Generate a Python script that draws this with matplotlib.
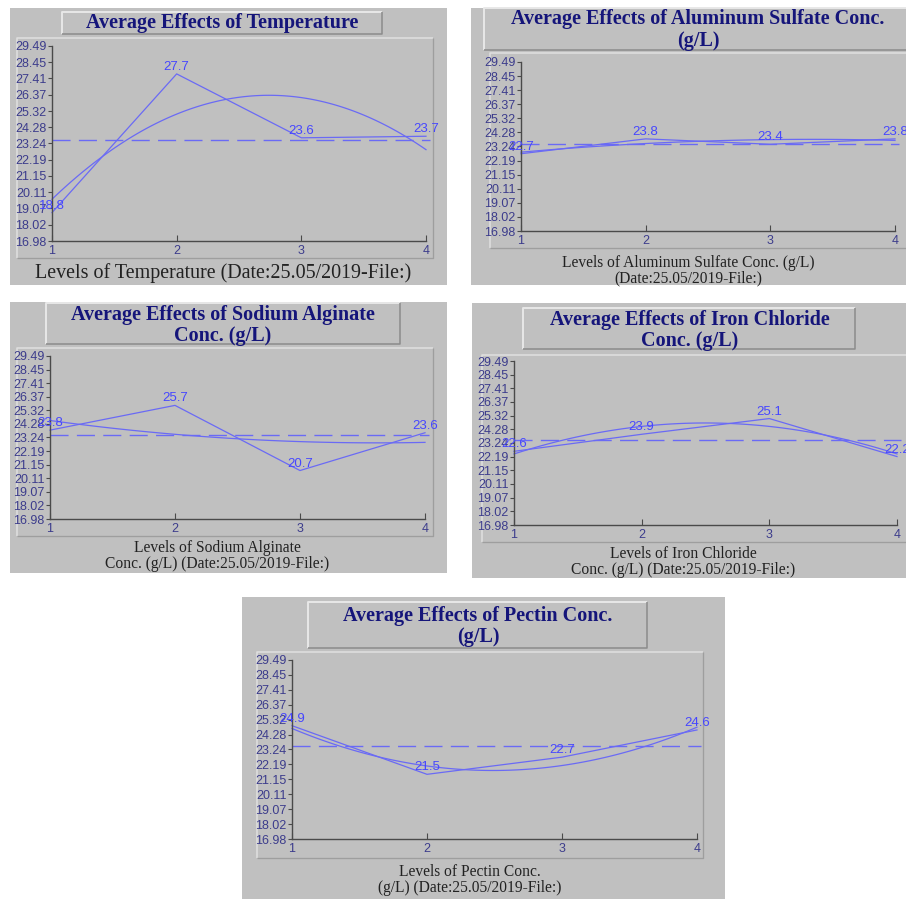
"""Five 'average effects' panels (Taguchi-style level means) on grey report frames."""

import matplotlib

matplotlib.use("Agg")
import matplotlib.pyplot as plt
import numpy as np
from matplotlib.patches import Rectangle

W, H = 906, 899  # output size in px (dpi 100)

# ---- data -------------------------------------------------------------------
LEVELS = [1, 2, 3, 4]
Y_TICKS = [16.98, 18.02, 19.07, 20.11, 21.15, 22.19, 23.24,
           24.28, 25.32, 26.37, 27.41, 28.45, 29.49]
GRAND_MEAN = 23.45

TEMPERATURE = [18.8, 27.7, 23.6, 23.7]
ALUMINUM_SULFATE = [22.7, 23.8, 23.4, 23.8]
SODIUM_ALGINATE = [23.8, 25.7, 20.7, 23.6]
IRON_CHLORIDE = [22.6, 23.9, 25.1, 22.2]
PECTIN = [24.9, 21.5, 22.7, 24.6]

TITLES = [
    ["Average Effects of Temperature"],
    ["Average Effects of Aluminum Sulfate Conc.", "(g/L)"],
    ["Average Effects of Sodium Alginate", "Conc. (g/L)"],
    ["Average Effects of Iron Chloride", "Conc. (g/L)"],
    ["Average Effects of Pectin Conc.", "(g/L)"],
]
XLABELS = [
    ["Levels of Temperature (Date:25.05/2019-File:)"],
    ["Levels of Aluminum Sulfate Conc. (g/L)", "(Date:25.05/2019-File:)"],
    ["Levels of Sodium Alginate", "Conc. (g/L) (Date:25.05/2019-File:)"],
    ["Levels of Iron Chloride", "Conc. (g/L) (Date:25.05/2019-File:)"],
    ["Levels of Pectin Conc.", "(g/L) (Date:25.05/2019-File:)"],
]

# ---- layout (pixel boxes: x0, y0, x1, y1) -----------------------------------
LAYOUT = [
    dict(grey=(10, 8, 447, 285), tbox=(62, 12, 382, 34), frame=(17, 38, 433, 258),
         axes=(52, 46, 426, 241), tcx=222, ty=[23], xcx=223, xy=[273], xfs=14.4),
    dict(grey=(471, 8, 906, 285), tbox=(484, 8, 910, 50), frame=(490, 53, 910, 248),
         axes=(521, 62, 895, 231), tcx=698, ty=[19, 41], xcx=688, xy=[263, 278], xfs=11.2),
    dict(grey=(10, 302, 447, 573), tbox=(46, 303, 400, 344), frame=(17, 348, 433, 536),
         axes=(50, 356, 425, 519), tcx=223, ty=[315, 336], xcx=217, xy=[548, 564], xfs=11.2),
    dict(grey=(472, 303, 906, 578), tbox=(523, 308, 855, 349), frame=(482, 355, 910, 542),
         axes=(514, 361, 897, 525), tcx=690, ty=[320, 341], xcx=683, xy=[554, 570], xfs=11.2),
    dict(grey=(242, 597, 725, 899), tbox=(308, 602, 647, 648), frame=(257, 652, 703, 858),
         axes=(292, 660, 697, 839), tcx=478, ty=[616, 637], xcx=470, xy=[872, 888], xfs=11.2),
]
SERIES = [TEMPERATURE, ALUMINUM_SULFATE, SODIUM_ALGINATE, IRON_CHLORIDE, PECTIN]

GREY = "#c0c0c0"
LINE = "#6a6af5"
TICK_TXT = "#3c3c8c"
TITLE_TXT = "#15157a"
SERIF = "Liberation Serif"
SANS = "Liberation Sans"


def bevel(ov, box, light="#e8e8e8", dark="#8c8c8c", lw=1.4):
    x0, y0, x1, y1 = box
    ov.plot([x0, x0, x1], [y1, y0, y0], color=light, lw=lw, solid_capstyle="butt")
    ov.plot([x0, x1, x1], [y1, y1, y0], color=dark, lw=lw * 0.8, solid_capstyle="butt")


def draw_panel(fig, ov, values, title, xlabel, lay):
    gx0, gy0, gx1, gy1 = lay["grey"]
    ov.add_patch(Rectangle((gx0, gy0), gx1 - gx0, gy1 - gy0, fc=GREY, ec="none"))
    bevel(ov, lay["tbox"])
    bevel(ov, lay["frame"], light="#dedede", dark="#9e9e9e", lw=1.2)
    for line, y in zip(title, lay["ty"]):
        ov.text(lay["tcx"], y, line, ha="center", va="center", color=TITLE_TXT,
                fontsize=14.5, fontweight="bold", family=SERIF)
    for line, y in zip(xlabel, lay["xy"]):
        ov.text(lay["xcx"], y, line, ha="center", va="center", color="#222222",
                fontsize=lay["xfs"], family=SERIF)

    xl, yt, xr, yb = lay["axes"]
    ax = fig.add_axes([xl / W, 1 - yb / H, (xr - xl) / W, (yb - yt) / H], zorder=2)
    ax.set_facecolor("none")
    ax.set_xlim(1, 4)
    ax.set_ylim(Y_TICKS[0], Y_TICKS[-1])
    ax.set_yticks(Y_TICKS)
    ax.set_yticklabels([f"{t:.2f}" for t in Y_TICKS], family=SANS)
    ax.set_xticks(LEVELS)
    ax.set_xticklabels([str(l) for l in LEVELS], family=SANS)
    for s in ("top", "right"):
        ax.spines[s].set_visible(False)
    for s in ("left", "bottom"):
        ax.spines[s].set_color("#4a4a4a")
        ax.spines[s].set_linewidth(1.0)
    ax.tick_params(axis="y", direction="out", length=3, width=0.8, color="#4a4a4a",
                   labelcolor=TICK_TXT, labelsize=9, pad=1)
    ax.tick_params(axis="x", direction="in", length=4, width=0.8, color="#4a4a4a",
                   labelcolor=TICK_TXT, labelsize=9, pad=3)

    # grand mean, level means, quadratic trend of the level means
    ax.plot([1, 4.03], [GRAND_MEAN, GRAND_MEAN], color=LINE, lw=1.0,
            dashes=(13, 6), clip_on=False)
    ax.plot(LEVELS, values, color=LINE, lw=0.9, clip_on=False)
    coef = np.polyfit(LEVELS, values, 2)
    xs = np.linspace(1, 4, 120)
    ax.plot(xs, np.polyval(coef, xs), color=LINE, lw=0.9, clip_on=False)
    for x, v in zip(LEVELS, values):
        ax.annotate(f"{v:.1f}", (x, v), xytext=(0, 5), textcoords="offset points",
                    ha="center", va="center", color="#4646ff", fontsize=9.5,
                    family=SANS, annotation_clip=False)


def main():
    fig = plt.figure(figsize=(W / 100, H / 100), dpi=100)
    fig.patch.set_facecolor("white")
    ov = fig.add_axes([0, 0, 1, 1], zorder=0)
    ov.set_xlim(0, W)
    ov.set_ylim(H, 0)
    ov.axis("off")
    for values, title, xlabel, lay in zip(SERIES, TITLES, XLABELS, LAYOUT):
        draw_panel(fig, ov, values, title, xlabel, lay)
    fig.savefig("out.png", dpi=100)
    plt.close(fig)


if __name__ == "__main__":
    main()
